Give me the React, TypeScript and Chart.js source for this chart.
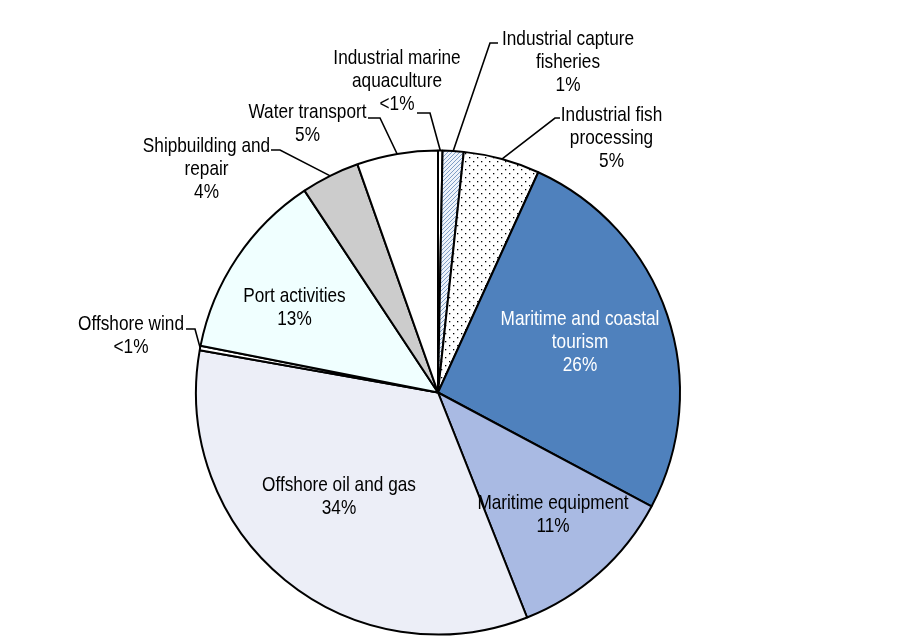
import React, { useEffect, useRef } from "react";
import { Chart, registerables } from "chart.js";

Chart.register(...registerables);

// ---- data ----
const categories = [
  "Industrial marine aquaculture",
  "Industrial capture fisheries",
  "Industrial fish processing",
  "Maritime and coastal tourism",
  "Maritime equipment",
  "Offshore oil and gas",
  "Offshore wind",
  "Port activities",
  "Shipbuilding and repair",
  "Water transport",
];
const shares = [0.3, 1.4, 5.1, 26.0, 11.2, 33.8, 0.3, 12.6, 3.9, 5.4];
const pctLabels = ["<1%", "1%", "5%", "26%", "11%", "34%", "<1%", "13%", "4%", "5%"];
const labelLines = [
  ["Industrial marine", "aquaculture"],
  ["Industrial capture", "fisheries"],
  ["Industrial fish", "processing"],
  ["Maritime and coastal", "tourism"],
  ["Maritime equipment"],
  ["Offshore oil and gas"],
  ["Offshore wind"],
  ["Port activities"],
  ["Shipbuilding and", "repair"],
  ["Water transport"],
];

// ---- label layout (text centre x, first baseline y, colour, optional leader) ----
type Leader = { tx: number; ty: number; ex: number };
type LabelPos = { x: number; y: number; color: string; leader?: Leader };
const labelLayout: LabelPos[] = [
  { x: 397, y: 63.5, color: "#000", leader: { tx: 417, ty: 113, ex: 430 } },
  { x: 568, y: 45, color: "#000", leader: { tx: 498, ty: 43, ex: 490 } },
  { x: 611.5, y: 121, color: "#000", leader: { tx: 560, ty: 118, ex: 555 } },
  { x: 580, y: 325, color: "#fff" },
  { x: 553, y: 508.5, color: "#000" },
  { x: 339, y: 490.5, color: "#000" },
  { x: 131, y: 330, color: "#000", leader: { tx: 186, ty: 329, ex: 195 } },
  { x: 294.5, y: 301.5, color: "#000" },
  { x: 206.5, y: 151.5, color: "#000", leader: { tx: 271, ty: 150, ex: 280 } },
  { x: 307.5, y: 117.5, color: "#000", leader: { tx: 368, ty: 118, ex: 380 } },
];
const LINE_GAP = 23;
const FONT_SIZE = 21;

function makeHatch(ctx: CanvasRenderingContext2D): CanvasPattern | string {
  const c = document.createElement("canvas");
  c.width = 4;
  c.height = 4;
  const g = c.getContext("2d")!;
  g.fillStyle = "#EEF3FA";
  g.fillRect(0, 0, 4, 4);
  g.strokeStyle = "#7F9EC6";
  g.lineWidth = 1;
  g.beginPath();
  g.moveTo(-1, 5);
  g.lineTo(5, -1);
  g.moveTo(-1, 1);
  g.lineTo(1, -1);
  g.moveTo(3, 5);
  g.lineTo(5, 3);
  g.stroke();
  return ctx.createPattern(c, "repeat") || "#DDE6F2";
}

function makeDots(ctx: CanvasRenderingContext2D): CanvasPattern | string {
  const c = document.createElement("canvas");
  c.width = 8;
  c.height = 8;
  const g = c.getContext("2d")!;
  g.fillStyle = "#FFFFFF";
  g.fillRect(0, 0, 8, 8);
  g.fillStyle = "#000000";
  g.fillRect(1, 1, 1.3, 1.3);
  g.fillRect(5, 5, 1.3, 1.3);
  return ctx.createPattern(c, "repeat") || "#EEEEEE";
}

function narrowAvailable(ctx: CanvasRenderingContext2D): boolean {
  const s = "Maritime equipment Offshore";
  ctx.save();
  ctx.font = `${FONT_SIZE}px "Liberation Sans Narrow", monospace`;
  const a = ctx.measureText(s).width;
  ctx.font = `${FONT_SIZE}px monospace`;
  const b = ctx.measureText(s).width;
  ctx.restore();
  return Math.abs(a - b) > 0.5;
}

const labelPlugin = {
  id: "pieLabels",
  afterDraw(chart: any) {
    const ctx: CanvasRenderingContext2D = chart.ctx;
    const meta = chart.getDatasetMeta(0);
    const narrow = narrowAvailable(ctx);
    ctx.save();
    ctx.font = narrow
      ? `${FONT_SIZE}px "Liberation Sans Narrow", "Liberation Sans", Arial, sans-serif`
      : `${FONT_SIZE}px "Liberation Sans", Arial, sans-serif`;
    ctx.textAlign = "center";
    ctx.textBaseline = "alphabetic";
    labelLayout.forEach((pos, i) => {
      const arc = meta.data[i];
      if (!arc) return;
      const p = arc.getProps(["x", "y", "startAngle", "endAngle", "outerRadius"], true);
      const lines = [...labelLines[i], pctLabels[i]];
      ctx.fillStyle = pos.color;
      lines.forEach((t, k) => {
        const y = pos.y + k * LINE_GAP;
        if (narrow) {
          ctx.fillText(t, pos.x, y);
        } else {
          ctx.save();
          ctx.translate(pos.x, y);
          ctx.scale(0.82, 1);
          ctx.fillText(t, 0, 0);
          ctx.restore();
        }
      });
      if (pos.leader) {
        const mid = (p.startAngle + p.endAngle) / 2;
        const edgeX = p.x + Math.cos(mid) * p.outerRadius;
        const edgeY = p.y + Math.sin(mid) * p.outerRadius;
        ctx.strokeStyle = "#000";
        ctx.lineWidth = 1.6;
        ctx.beginPath();
        ctx.moveTo(pos.leader.tx, pos.leader.ty);
        ctx.lineTo(pos.leader.ex, pos.leader.ty);
        ctx.lineTo(edgeX, edgeY);
        ctx.stroke();
      }
    });
    ctx.restore();
  },
};

export default function App() {
  const ref = useRef<HTMLCanvasElement>(null);
  useEffect(() => {
    const canvas = ref.current!;
    const ctx = canvas.getContext("2d")!;
    const fills: (string | CanvasPattern)[] = [
      "#FFFFFF",
      makeHatch(ctx),
      makeDots(ctx),
      "#4F81BD",
      "#A9BAE3",
      "#ECEEF7",
      "#FFFFFF",
      "#F0FFFF",
      "#CCCCCC",
      "#FFFFFF",
    ];
    const chart = new Chart(canvas, {
      type: "pie",
      data: {
        labels: categories,
        datasets: [
          {
            data: shares,
            backgroundColor: fills as any,
            borderColor: "#000000",
            borderWidth: 2,
          },
        ],
      },
      options: {
        responsive: false,
        animation: false,
        events: [],
        layout: { padding: { left: 195, right: 225, top: 149, bottom: 4 } },
        plugins: {
          legend: { display: false },
          tooltip: { enabled: false },
        },
      },
      plugins: [labelPlugin],
    });
    return () => chart.destroy();
  }, []);
  return (
    <div
      style={{
        position: "fixed",
        left: 0,
        top: 0,
        width: 906,
        height: 640,
        background: "#ffffff",
      }}
    >
      <canvas ref={ref} width={906} height={640} style={{ display: "block", width: 906, height: 640 }} />
    </div>
  );
}
